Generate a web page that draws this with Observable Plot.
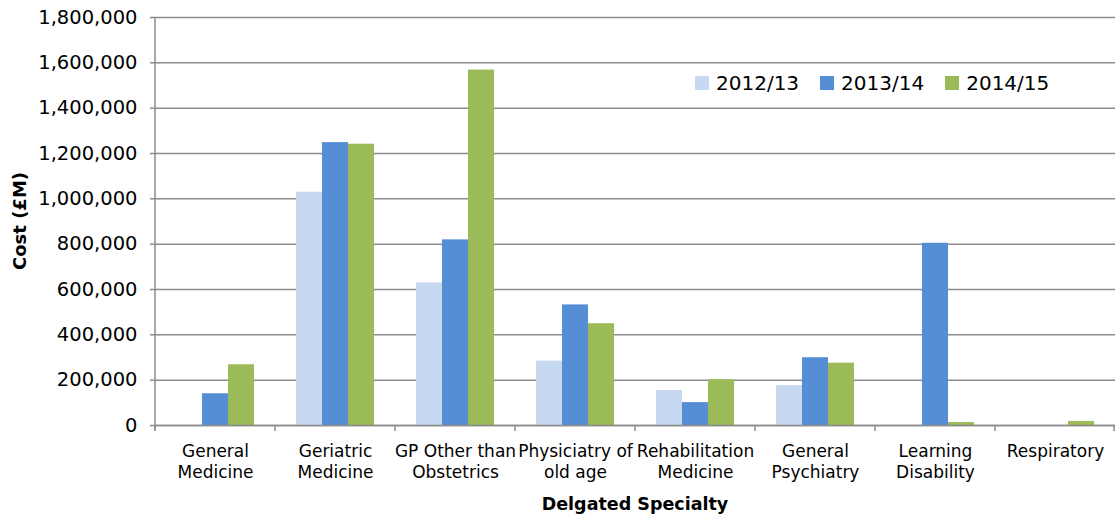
<!DOCTYPE html>
<html>
<head>
<meta charset="utf-8">
<script src="https://cdn.jsdelivr.net/npm/d3@7"></script>
<script src="https://cdn.jsdelivr.net/npm/@observablehq/plot@0.6"></script>
<style>
  html, body { margin: 0; padding: 0; background: white; }
  #wrap { position: relative; width: 1115px; height: 518px; font-family: "DejaVu Sans", sans-serif; }
  #legend { position: absolute; left: 695px; top: 71px; display: flex; align-items: center; font-size: 20px; color: #000; }
  #legend .item { display: flex; align-items: center; margin-right: 21px; }
  #legend .sw { width: 14px; height: 14px; margin-right: 7px; }
</style>
</head>
<body>
<div id="wrap"></div>
<script>
const categories = ["General Medicine", "Geriatric Medicine", "GP Other than Obstetrics", "Physiciatry of old age", "Rehabilitation Medicine", "General Psychiatry", "Learning Disability", "Respiratory"];
const categoryLabels = ["General\nMedicine", "Geriatric\nMedicine", "GP Other than\nObstetrics", "Physiciatry of\nold age", "Rehabilitation\nMedicine", "General\nPsychiatry", "Learning\nDisability", "Respiratory"];
const years = ["2012/13", "2013/14", "2014/15"];
const values201213 = [0, 1029000, 629000, 284000, 154000, 176000, 0, 0];
const values201314 = [140000, 1248000, 819000, 532000, 101000, 299000, 804000, 0];
const values201415 = [268000, 1241000, 1568000, 449000, 202000, 275000, 13000, 18000];
const colors = ["#c6d9f1", "#558ed5", "#9bbb59"];
const yTicks = [0, 200000, 400000, 600000, 800000, 1000000, 1200000, 1400000, 1600000, 1800000];
const xTitle = "Delgated Specialty";
const yTitle = "Cost (£M)";

const series = [values201213, values201314, values201415];
const data = [];
categories.forEach((c, i) => {
  years.forEach((yr, j) => {
    if (series[j][i] > 0) data.push({category: c, year: yr, value: series[j][i]});
  });
});
const labelOf = new Map(categories.map((c, i) => [c, categoryLabels[i]]));
const grid = "#8c8c8c";

const chart = Plot.plot({
  width: 1115,
  height: 518,
  marginLeft: 155,
  marginRight: 0,
  marginTop: 17,
  marginBottom: 93,
  style: {fontFamily: "DejaVu Sans, sans-serif", background: "white", color: "#000"},
  fx: {domain: categories, padding: 0, label: null},
  x: {domain: years, paddingInner: 0, paddingOuter: 0.75, axis: null},
  y: {domain: [0, 1800000], label: null},
  color: {domain: years, range: colors},
  marks: [
    Plot.gridY(yTicks, {stroke: grid, strokeOpacity: 1, strokeWidth: 1.5}),
    Plot.barY(data, {fx: "category", x: "year", y: "value", fill: "year"}),
    Plot.ruleY([0], {stroke: grid, strokeWidth: 1.5}),
    Plot.axisY(yTicks, {tickSize: 5, tickPadding: 13, tickFormat: d3.format(","), fontSize: 19.5, stroke: grid, strokeWidth: 1.5, label: null}),
    Plot.axisFx({anchor: "bottom", tickSize: 0, tickPadding: 16, fontSize: 17, lineHeight: 1.25, tickFormat: d => labelOf.get(d), label: null})
  ]
});

const wrap = document.getElementById("wrap");
wrap.appendChild(chart);

const fx = chart.scale("fx");
const y = chart.scale("y");
const svg = d3.select(chart);
const y0 = y.apply(0);
const yTop = y.apply(1800000);
const left = fx.apply(categories[0]);
const right = fx.apply(categories[categories.length - 1]) + fx.bandwidth;
// y axis line
svg.append("line").attr("x1", left).attr("x2", left).attr("y1", yTop).attr("y2", y0 + 5)
  .attr("stroke", grid).attr("stroke-width", 1.5);
// category boundary ticks
const bounds = categories.map(c => fx.apply(c)).concat([right - 1]);
svg.append("g").selectAll("line").data(bounds).join("line")
  .attr("x1", d => d).attr("x2", d => d).attr("y1", y0).attr("y2", y0 + 6)
  .attr("stroke", grid).attr("stroke-width", 1.5);
// axis titles
svg.append("text").attr("x", (left + right) / 2).attr("y", 510)
  .attr("text-anchor", "middle").attr("font-weight", "bold").attr("font-size", 17.5)
  .attr("fill", "#000").text(xTitle);
svg.append("text").attr("transform", `translate(26,${(y0 + yTop) / 2}) rotate(-90)`)
  .attr("text-anchor", "middle").attr("font-weight", "bold").attr("font-size", 18)
  .attr("fill", "#000").text(yTitle);

// legend
const legend = document.createElement("div");
legend.id = "legend";
years.forEach((yr, j) => {
  const item = document.createElement("div");
  item.className = "item";
  const sw = document.createElement("div");
  sw.className = "sw";
  sw.style.background = colors[j];
  const t = document.createElement("span");
  t.textContent = yr;
  item.appendChild(sw);
  item.appendChild(t);
  legend.appendChild(item);
});
wrap.appendChild(legend);
</script>
</body>
</html>
